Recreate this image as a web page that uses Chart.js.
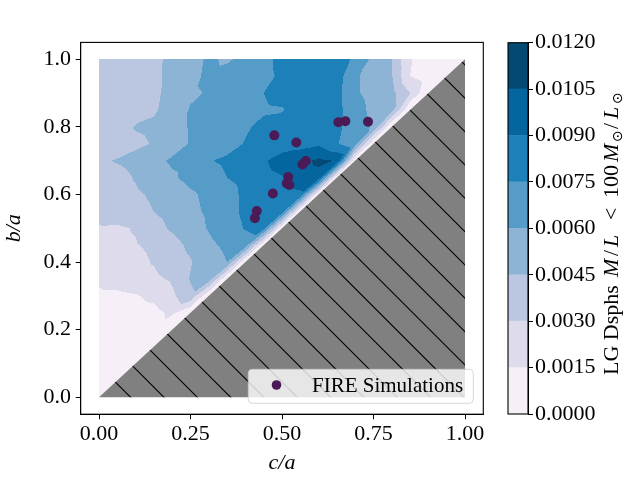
<!DOCTYPE html>
<html>
<head>
<meta charset="utf-8">
<script src="https://cdn.jsdelivr.net/npm/chart.js@4.4.1/dist/chart.umd.min.js"></script>
<style>
html,body{margin:0;padding:0;background:#fff;}
#wrap{position:relative;width:640px;height:480px;}
#wrap canvas{position:absolute;left:0;top:0;}
</style>
</head>
<body>
<div id="wrap"><canvas id="main" width="640" height="480"></canvas><canvas id="cbar" width="640" height="480"></canvas></div>
<script>
// ---------- data ----------
const xTickValues = [0, 0.25, 0.5, 0.75, 1.0];
const xTickLabels = ['0.00', '0.25', '0.50', '0.75', '1.00'];
const yTickValues = [0, 0.2, 0.4, 0.6, 0.8, 1.0];
const yTickLabels = ['0.0', '0.2', '0.4', '0.6', '0.8', '1.0'];

const levelBounds = [0, 0.0015, 0.003, 0.0045, 0.006, 0.0075, 0.009, 0.0105, 0.012];
const levelLabels = ['0.0000', '0.0015', '0.0030', '0.0045', '0.0060', '0.0075', '0.0090', '0.0105', '0.0120'];
const levelColors = ['#f6eff7', '#dedcec', '#bbc7e1', '#8db3d5', '#559dc8', '#1e80b8', '#05659f', '#034973'];

const fireCA = [0.479, 0.539, 0.654, 0.673, 0.735, 0.556, 0.565, 0.517, 0.513, 0.520, 0.475, 0.431, 0.426];
const fireBA = [0.775, 0.754, 0.814, 0.817, 0.815, 0.689, 0.699, 0.652, 0.633, 0.628, 0.603, 0.551, 0.530];

// density grid: columns = c/a values, rows = b/a values (top row first)
const gridCA = [0, 0.05, 0.1, 0.15, 0.2, 0.25, 0.3, 0.35, 0.4, 0.45, 0.5, 0.55, 0.6, 0.65, 0.7, 0.75, 0.8, 0.85, 0.9, 0.95, 1.0];
const gridBA = [1.0, 0.95, 0.9, 0.85, 0.8, 0.75, 0.7, 0.65, 0.6, 0.55, 0.5, 0.45, 0.4, 0.35, 0.3, 0.25, 0.2, 0.15, 0.1, 0.05, 0];
const density = [
  [0.0037,0.0037,0.0038,0.0041,0.0049,0.0055,0.0062,0.0058,0.0064,0.0072,0.0078,0.0083,0.0085,0.0088,0.0070,0.0057,0.0045,0.0016,0.0008,0.0006,0],
  [0.0037,0.0037,0.0038,0.0042,0.0049,0.0056,0.0063,0.0066,0.0068,0.0072,0.0077,0.0082,0.0084,0.0082,0.0062,0.0054,0.0046,0.0015,0.0008,0,0],
  [0.0036,0.0037,0.0039,0.0042,0.0050,0.0058,0.0061,0.0066,0.0070,0.0075,0.0080,0.0084,0.0086,0.0080,0.0062,0.0055,0.0050,0.0030,0,0,0],
  [0.0036,0.0037,0.0039,0.0043,0.0052,0.0061,0.0063,0.0066,0.0070,0.0073,0.0074,0.0082,0.0086,0.0080,0.0066,0.0056,0.0050,0,0,0,0],
  [0.0036,0.0037,0.0046,0.0048,0.0056,0.0061,0.0065,0.0068,0.0073,0.0079,0.0082,0.0084,0.0084,0.0078,0.0068,0.0058,0,0,0,0,0],
  [0.0036,0.0038,0.0042,0.0046,0.0054,0.0061,0.0066,0.0069,0.0076,0.0079,0.0081,0.0085,0.0088,0.0076,0.0066,0,0,0,0,0,0],
  [0.0043,0.0046,0.0050,0.0056,0.0062,0.0064,0.0074,0.0078,0.0083,0.0088,0.0098,0.0100,0.0108,0.0104,0,0,0,0,0,0,0],
  [0.0038,0.0040,0.0046,0.0052,0.0058,0.0064,0.0068,0.0075,0.0079,0.0084,0.0089,0.0097,0.0100,0,0,0,0,0,0,0,0],
  [0.0036,0.0039,0.0043,0.0047,0.0052,0.0058,0.0063,0.0070,0.0078,0.0081,0.0085,0.0088,0,0,0,0,0,0,0,0,0],
  [0.0033,0.0037,0.0041,0.0045,0.0050,0.0057,0.0062,0.0070,0.0078,0.0082,0.0084,0,0,0,0,0,0,0,0,0,0],
  [0.0029,0.0028,0.0031,0.0040,0.0047,0.0054,0.0061,0.0068,0.0076,0.0080,0,0,0,0,0,0,0,0,0,0,0],
  [0.0025,0.0027,0.0029,0.0033,0.0040,0.0048,0.0057,0.0063,0.0068,0,0,0,0,0,0,0,0,0,0,0,0],
  [0.0022,0.0024,0.0026,0.0031,0.0038,0.0044,0.0053,0.0060,0,0,0,0,0,0,0,0,0,0,0,0,0],
  [0.0018,0.0021,0.0024,0.0027,0.0032,0.0046,0.0054,0,0,0,0,0,0,0,0,0,0,0,0,0,0],
  [0.0012,0.0012,0.0014,0.0018,0.0027,0.0042,0,0,0,0,0,0,0,0,0,0,0,0,0,0,0],
  [0.0008,0.0009,0.0010,0.0011,0.0018,0,0,0,0,0,0,0,0,0,0,0,0,0,0,0,0],
  [0.0007,0.0007,0.0008,0.0010,0,0,0,0,0,0,0,0,0,0,0,0,0,0,0,0,0],
  [0.0006,0.0006,0.0007,0,0,0,0,0,0,0,0,0,0,0,0,0,0,0,0,0,0],
  [0.0005,0.0005,0,0,0,0,0,0,0,0,0,0,0,0,0,0,0,0,0,0,0],
  [0.0004,0,0,0,0,0,0,0,0,0,0,0,0,0,0,0,0,0,0,0,0],
  [0,0,0,0,0,0,0,0,0,0,0,0,0,0,0,0,0,0,0,0,0]
];

// excluded (unphysical) region c/a > b/a
const maskCA = [0, 1, 1];
const maskBA = [0, 0, 1];

const seriesLabel = 'FIRE Simulations';
const xTitle = 'c/a';
const yTitle = 'b/a';

// colorbar label pieces: text, style, start offset along the bar (px)
const cbLabelParts = [
  ['LG Dsphs', 'r', 0], ['M', 'i', 98], ['/', 'r', 119], ['L', 'i', 128], ['<', 'r', 155], ['100', 'r', 177],
  ['M', 'i', 213], ['\u2299', 's', 233], ['/', 'r', 246], ['L', 'i', 256], ['\u2299', 's', 271]
];

// ---------- helpers ----------
const SERIF = '"Liberation Serif", "DejaVu Serif", serif';
Chart.defaults.font.family = SERIF;
Chart.defaults.color = '#000';

function hexToRgb(h) {
  return [parseInt(h.slice(1, 3), 16), parseInt(h.slice(3, 5), 16), parseInt(h.slice(5, 7), 16)];
}

function sampleDensity(xv, yv) {
  if (xv < gridCA[0] || xv > gridCA[gridCA.length - 1]) return null;
  if (yv < gridBA[gridBA.length - 1] || yv > gridBA[0]) return null;
  let c = 0;
  while (c < gridCA.length - 2 && xv > gridCA[c + 1]) c++;
  let r = 0; // gridBA descending
  while (r < gridBA.length - 2 && yv < gridBA[r + 1]) r++;
  const x0 = gridCA[c], x1 = gridCA[c + 1];
  const yLo = gridBA[r + 1], yHi = gridBA[r];
  const fx = (xv - x0) / (x1 - x0);
  const fy = (yv - yLo) / (yHi - yLo);
  const v00 = density[r + 1][c], v10 = density[r + 1][c + 1];
  const v01 = density[r][c], v11 = density[r][c + 1];
  if (fy >= fx) return v00 + fy * (v01 - v00) + fx * (v11 - v01);
  return v00 + fx * (v10 - v00) + fy * (v11 - v10);
}

function levelIndex(v) {
  if (v < levelBounds[0] || v > levelBounds[levelBounds.length - 1]) return -1;
  for (let k = 0; k < levelBounds.length - 1; k++) {
    if (v < levelBounds[k + 1]) return k;
  }
  return levelBounds.length - 2;
}

const contourPlugin = {
  id: 'contourField',
  beforeDatasetsDraw(chart) {
    const {ctx, chartArea: a, scales: {x, y}} = chart;
    const L = Math.floor(a.left), T = Math.floor(a.top);
    const W = Math.ceil(a.right) - L, H = Math.ceil(a.bottom) - T;
    const img = ctx.getImageData(L, T, W, H);
    const d = img.data;
    const rgb = levelColors.map(hexToRgb);
    for (let j = 0; j < H; j++) {
      const yv = y.getValueForPixel(T + j + 0.5);
      for (let i = 0; i < W; i++) {
        const xv = x.getValueForPixel(L + i + 0.5);
        const v = sampleDensity(xv, yv);
        if (v === null) continue;
        const k = levelIndex(v);
        if (k < 0) continue;
        const p = (j * W + i) * 4;
        d[p] = rgb[k][0]; d[p + 1] = rgb[k][1]; d[p + 2] = rgb[k][2]; d[p + 3] = 255;
      }
    }
    ctx.putImageData(img, L, T);

    // excluded triangle with hatch
    ctx.save();
    ctx.beginPath();
    maskCA.forEach((cv, i) => {
      const px = x.getPixelForValue(cv), py = y.getPixelForValue(maskBA[i]);
      if (i === 0) ctx.moveTo(px, py); else ctx.lineTo(px, py);
    });
    ctx.closePath();
    ctx.fillStyle = '#808080';
    ctx.fill();
    ctx.clip();
    ctx.strokeStyle = '#000';
    ctx.lineWidth = 1.1;
    const sp = 100 / 3;
    const kMin = Math.floor((a.left - a.bottom) / sp), kMax = Math.ceil((a.right - a.top) / sp);
    for (let k = kMin; k <= kMax; k++) {
      const c = k * sp;
      ctx.beginPath();
      ctx.moveTo(a.left - 5, a.left - 5 - c);
      ctx.lineTo(a.right + 5, a.right + 5 - c);
      ctx.stroke();
    }
    ctx.restore();
  },
  afterDatasetsDraw(chart) {
    const {ctx, chartArea: a} = chart;
    const ds = chart.data.datasets[0];
    // legend box
    ctx.save();
    const bx = 248.3, by = 369.3, bw = 225, bh = 34, r = 4;
    ctx.beginPath();
    ctx.moveTo(bx + r, by);
    ctx.lineTo(bx + bw - r, by); ctx.arcTo(bx + bw, by, bx + bw, by + r, r);
    ctx.lineTo(bx + bw, by + bh - r); ctx.arcTo(bx + bw, by + bh, bx + bw - r, by + bh, r);
    ctx.lineTo(bx + r, by + bh); ctx.arcTo(bx, by + bh, bx, by + bh - r, r);
    ctx.lineTo(bx, by + r); ctx.arcTo(bx, by, bx + r, by, r);
    ctx.closePath();
    ctx.fillStyle = 'rgba(255,255,255,0.8)';
    ctx.fill();
    ctx.strokeStyle = 'rgba(204,204,204,0.8)';
    ctx.lineWidth = 1;
    ctx.stroke();
    ctx.beginPath();
    ctx.arc(276.5, 385, 4.8, 0, Math.PI * 2);
    ctx.fillStyle = ds.backgroundColor;
    ctx.fill();
    ctx.fillStyle = '#000';
    ctx.font = '21px ' + SERIF;
    ctx.textBaseline = 'alphabetic';
    ctx.textAlign = 'left';
    ctx.fillText(ds.label, 312, 391.7);
    // frame
    ctx.strokeStyle = '#000';
    ctx.lineWidth = 1.1;
    ctx.strokeRect(a.left, a.top, a.right - a.left, a.bottom - a.top);
    ctx.restore();
  }
};

new Chart(document.getElementById('main'), {
  type: 'scatter',
  data: {
    datasets: [{
      label: seriesLabel,
      data: fireCA.map((cv, i) => ({x: cv, y: fireBA[i]})),
      backgroundColor: '#4a1b56',
      borderWidth: 0,
      pointRadius: 5,
      pointHoverRadius: 5
    }]
  },
  options: {
    responsive: false,
    animation: false,
    devicePixelRatio: 1,
    layout: {padding: {left: 0, top: 42.4, right: 156.7, bottom: 0}},
    plugins: {legend: {display: false}, tooltip: {enabled: false}},
    scales: {
      x: {
        type: 'linear', min: -0.05, max: 1.05,
        afterBuildTicks: s => { s.ticks = xTickValues.map(v => ({value: v})); },
        afterFit: s => { s.height = 65.8; },
        ticks: {callback: v => xTickLabels[xTickValues.indexOf(v)], font: {size: 22, family: SERIF}, color: '#000', padding: 2, maxRotation: 0, autoSkip: false},
        grid: {drawOnChartArea: false, drawTicks: true, tickLength: 5, color: '#000', lineWidth: 1},
        border: {display: true, color: '#000', width: 1},
        title: {display: true, text: xTitle, font: {size: 22, style: 'italic', family: SERIF}, color: '#000', padding: {top: 0, bottom: 3.5}}
      },
      y: {
        type: 'linear', min: -0.05, max: 1.05,
        afterBuildTicks: s => { s.ticks = yTickValues.map(v => ({value: v})); },
        afterFit: s => { s.width = 80.7; },
        ticks: {callback: v => yTickLabels[yTickValues.indexOf(v)], font: {size: 22, family: SERIF}, color: '#000', padding: 4.7, autoSkip: false},
        grid: {drawOnChartArea: false, drawTicks: true, tickLength: 5, color: '#000', lineWidth: 1},
        border: {display: true, color: '#000', width: 1},
        title: {display: true, text: yTitle, font: {size: 22, style: 'italic', family: SERIF}, color: '#000', padding: {top: 1, bottom: 0}}
      }
    }
  },
  plugins: [contourPlugin]
});

// ---------- colorbar ----------
const cbPlugin = {
  id: 'cbExtras',
  afterDraw(chart) {
    const {ctx, chartArea: a} = chart;
    ctx.save();
    ctx.strokeStyle = '#000';
    ctx.lineWidth = 1.1;
    ctx.strokeRect(a.left, a.top, a.right - a.left, a.bottom - a.top);
    ctx.translate(618, 375);
    ctx.rotate(-Math.PI / 2);
    ctx.fillStyle = '#000';
    ctx.textBaseline = 'alphabetic';
    ctx.textAlign = 'left';
    cbLabelParts.forEach(([t, st, off]) => {
      if (st === 'i') ctx.font = 'italic 22px ' + SERIF;
      else if (st === 's') ctx.font = '14px "DejaVu Sans", sans-serif';
      else ctx.font = '22px ' + SERIF;
      ctx.fillText(t, off, st === 's' ? 4 : 0);
    });
    ctx.restore();
  }
};

new Chart(document.getElementById('cbar'), {
  type: 'bar',
  data: {
    labels: ['colorbar'],
    datasets: levelColors.map((col, k) => ({
      data: [levelBounds[k + 1] - levelBounds[k]],
      backgroundColor: col,
      borderWidth: 0,
      barPercentage: 1,
      categoryPercentage: 1
    }))
  },
  options: {
    responsive: false,
    animation: false,
    devicePixelRatio: 1,
    layout: {padding: {left: 508, top: 42.7, right: 0, bottom: 66}},
    plugins: {legend: {display: false}, tooltip: {enabled: false}},
    scales: {
      x: {display: false, stacked: true},
      y: {
        stacked: true, position: 'right', min: 0, max: 0.012,
        afterBuildTicks: s => { s.ticks = levelBounds.map(v => ({value: v})); },
        afterFit: s => { s.width = 112; },
        ticks: {callback: v => levelLabels[levelBounds.indexOf(v)], font: {size: 22, family: SERIF}, color: '#000', padding: 2, autoSkip: false},
        grid: {drawOnChartArea: false, drawTicks: true, tickLength: 5, color: '#000', lineWidth: 1},
        border: {display: true, color: '#000', width: 1}
      }
    }
  },
  plugins: [cbPlugin]
});
</script>
</body>
</html>
